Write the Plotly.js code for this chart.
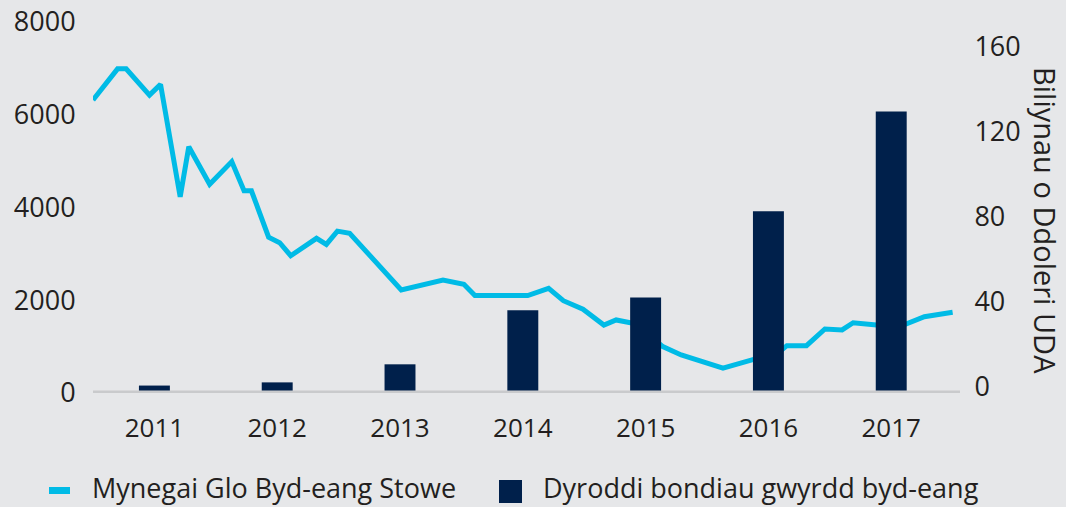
<!DOCTYPE html>
<html>
<head>
<meta charset="utf-8">
<script src="https://cdn.plot.ly/plotly-3.0.1.min.js"></script>
<style>html,body{margin:0;padding:0;background:#e6e7e9;}#chart{width:1066px;height:507px;}</style>
</head>
<body>
<div id="chart"></div>
<script>
// ---- data ----
const years = [2011, 2012, 2013, 2014, 2015, 2016, 2017];
const yearLabels = ['2011', '2012', '2013', '2014', '2015', '2016', '2017'];
const bondIssuance = [3.5, 5, 13.5, 39, 45, 85.5, 132.5]; // bn USD (right axis)
const coalDates = [2011.00, 2011.20, 2011.27, 2011.38, 2011.46, 2011.55, 2011.71, 2011.78, 2011.95,
  2012.13, 2012.23, 2012.29, 2012.43, 2012.52, 2012.61, 2012.82, 2012.90, 2012.99,
  2013.09, 2013.51, 2013.85, 2014.02, 2014.11, 2014.54, 2014.71, 2014.83, 2014.99,
  2015.16, 2015.26, 2015.42, 2015.64, 2015.79, 2016.13, 2016.38, 2016.55, 2016.65,
  2016.81, 2016.96, 2017.10, 2017.19, 2017.38, 2017.60, 2017.77, 2018.00];
const coalIndex = [6320, 6990, 6990, 6640, 6425, 6655, 4230, 5310, 4500,
  4990, 4360, 4360, 3360, 3240, 2960, 3335, 3205, 3490,
  3445, 2220, 2435, 2345, 2100, 2100, 2255, 1990, 1805,
  1465, 1575, 1490, 1000, 820, 535, 725, 800, 1020,
  1020, 1380, 1360, 1515, 1465, 1465, 1645, 1740];
const leftTicks = [0, 2000, 4000, 6000, 8000];
const rightTicks = [0, 40, 80, 120, 160];
const lineName = 'Mynegai Glo Byd-eang Stowe';
const barName = 'Dyroddi bondiau gwyrdd byd-eang';
const rightTitle = 'Biliynau o Ddoleri UDA';

// ---- layout helpers (pixel -> paper) ----
const W = 1066, H = 507;
const L = 93, R = 960, T = 22, B = 393;
const px = x => (x - L) / (R - L);
const py = y => (B - y) / (B - T);

const FONT = '"Open Sans", Roboto, sans-serif';
const TXT = '#231f20';
const CYAN = '#00bbe6';
const NAVY = '#00204b';

const traces = [
  {
    type: 'bar', name: barName,
    x: years.map(y => y + 0.5), y: bondIssuance,
    yaxis: 'y2', width: 0.252,
    marker: {color: NAVY, line: {width: 0}},
    hoverinfo: 'skip', showlegend: false
  },
  {
    type: 'scatter', mode: 'lines', name: lineName,
    x: coalDates, y: coalIndex,
    line: {color: CYAN, width: 5, shape: 'linear'},
    hoverinfo: 'skip', showlegend: false
  }
];

const layout = {
  width: W, height: H,
  margin: {l: L, r: W - R, t: T, b: H - B, pad: 0},
  paper_bgcolor: '#e6e7e9', plot_bgcolor: '#e6e7e9',
  font: {family: FONT, color: TXT, size: 26},
  showlegend: false,
  xaxis: {
    range: [2011, 2018.06], tickvals: years.map(y => y + 0.5), ticktext: yearLabels,
    showgrid: false, zeroline: false, showline: false,
    ticks: 'outside', ticklen: 12, tickcolor: 'rgba(0,0,0,0)',
    tickfont: {family: FONT, size: 26, color: TXT}, fixedrange: true
  },
  yaxis: {
    range: [0, 8000], tickvals: leftTicks, ticktext: leftTicks.map(String),
    showgrid: false, zeroline: false, showline: false,
    ticks: 'outside', ticklen: 11, tickcolor: 'rgba(0,0,0,0)',
    tickfont: {family: FONT, size: 27, color: TXT}, fixedrange: true
  },
  yaxis2: {
    overlaying: 'y', side: 'right',
    range: [0, (B - T) / 2.125], tickvals: rightTicks, ticktext: rightTicks.map(String),
    showgrid: false, zeroline: false, showline: false,
    ticks: 'outside', ticklen: 8, tickcolor: 'rgba(0,0,0,0)',
    ticklabelshift: -6,
    tickfont: {family: FONT, size: 27, color: TXT}, fixedrange: true
  },
  shapes: [
    {type: 'line', xref: 'paper', yref: 'y', x0: 0, x1: 1, y0: 0, y1: 0,
     line: {color: '#c9cacc', width: 5}, layer: 'above'},
    // legend symbols
    {type: 'rect', xref: 'paper', yref: 'paper', x0: px(49), x1: px(70), y0: py(494), y1: py(487),
     fillcolor: CYAN, line: {width: 0}},
    {type: 'rect', xref: 'paper', yref: 'paper', x0: px(499), x1: px(522), y0: py(503), y1: py(480),
     fillcolor: NAVY, line: {width: 0}}
  ],
  annotations: [
    {text: rightTitle, xref: 'paper', yref: 'paper', x: px(1046), y: py(220),
     xanchor: 'center', yanchor: 'middle', textangle: 90, showarrow: false, borderpad: 0,
     font: {family: FONT, size: 29, color: TXT}},
    {text: lineName, xref: 'paper', yref: 'paper', x: px(91), y: py(488),
     xanchor: 'left', yanchor: 'middle', showarrow: false, borderpad: 0,
     font: {family: FONT, size: 27, color: TXT}},
    {text: barName, xref: 'paper', yref: 'paper', x: px(542), y: py(488),
     xanchor: 'left', yanchor: 'middle', showarrow: false, borderpad: 0,
     font: {family: FONT, size: 27, color: TXT}}
  ]
};

Plotly.newPlot('chart', traces, layout, {staticPlot: true, displayModeBar: false});
</script>
</body>
</html>
